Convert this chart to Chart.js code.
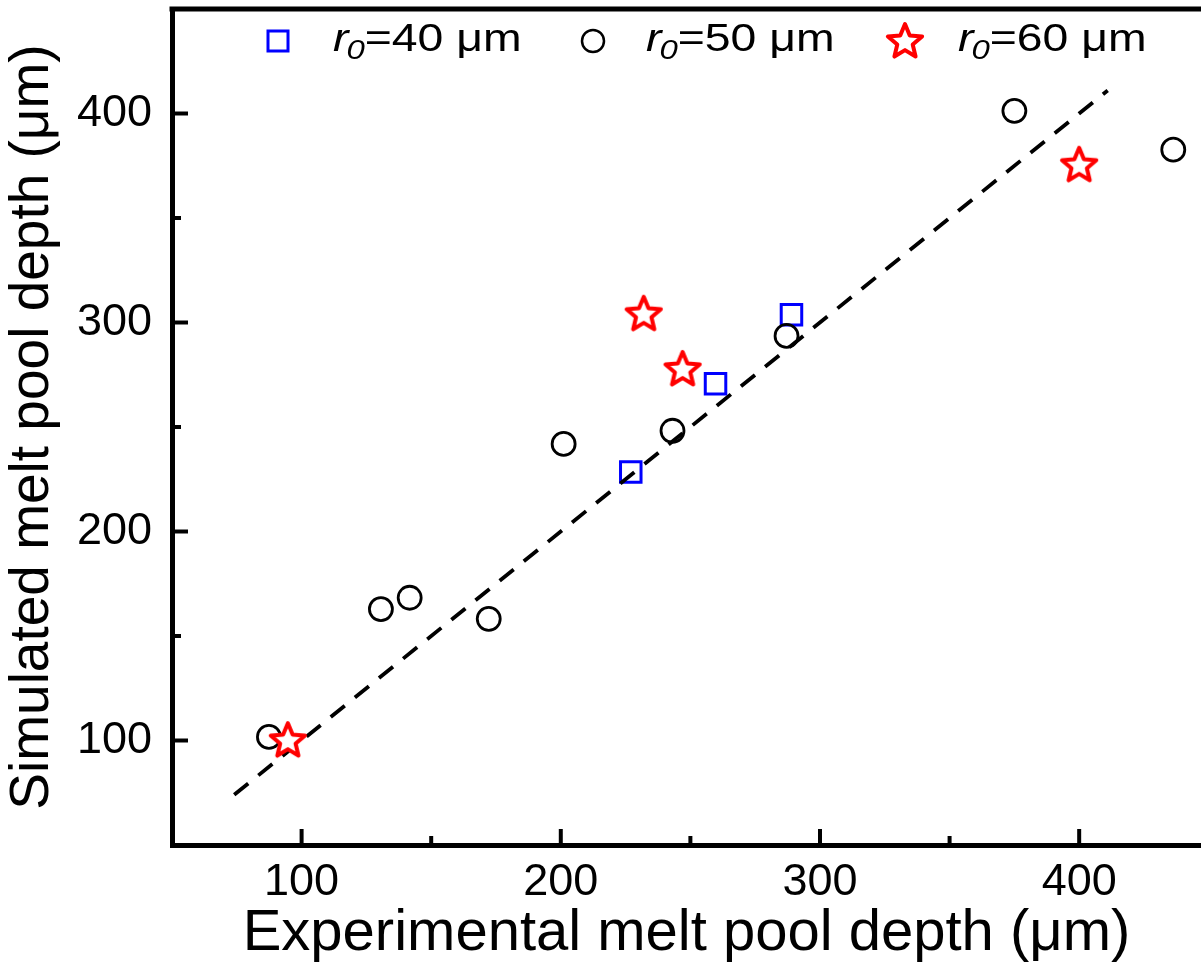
<!DOCTYPE html>
<html>
<head>
<meta charset="utf-8">
<script src="https://cdn.jsdelivr.net/npm/chart.js@4.4.0/dist/chart.umd.min.js"></script>
<style>
  html, body { margin: 0; padding: 0; background: #fff; overflow: hidden; }
  #wrap { width: 1201px; height: 969px; position: relative; }
</style>
</head>
<body>
<div id="wrap"><canvas id="chart"></canvas></div>
<script>
// data (experimental vs simulated depth, um)
const r40X = [227, 259.7, 289];
const r40Y = [228.5, 270.7, 303.7];
const r50X = [87.4, 130.6, 141.7, 172.2, 201.1, 243.1, 287.1, 375, 436.3];
const r50Y = [101.7, 162.9, 168.3, 158.2, 241.9, 248.2, 293.6, 401.3, 382.7];
const r60X = [94.7, 232, 247, 400];
const r60Y = [100.2, 304.2, 277.8, 375.5];
const fitX = [74, 411];
const fitY = [74, 411];

const xTickLabels = [100, 200, 300, 400];
const yTickLabels = [100, 200, 300, 400];
const minorTicks = [150, 250, 350];
const legendLabels = ['=40 μm', '=50 μm', '=60 μm'];

const pts = (xs, ys) => xs.map((x, i) => ({ x: x, y: ys[i] }));

// hollow red five-point star used as point style
function makeStar(size, lw) {
  const c = document.createElement('canvas');
  c.width = c.height = size;
  const g = c.getContext('2d');
  const R = size / 2 - lw, r = R * 0.45, cx = size / 2, cy = size / 2 + 1;
  g.beginPath();
  for (let i = 0; i < 10; i++) {
    const a = -Math.PI / 2 + i * Math.PI / 5;
    const rad = i % 2 ? r : R;
    g.lineTo(cx + rad * Math.cos(a), cy + rad * Math.sin(a));
  }
  g.closePath();
  g.fillStyle = '#fff';
  g.fill();
  g.lineJoin = 'round';
  g.lineWidth = lw;
  g.strokeStyle = '#ff0000';
  g.stroke();
  return c;
}
const star = makeStar(44, 4);

// drop the padding chart.js reserves for the (hidden) edge labels
const fixPad = s => { s.paddingTop = 0; s.paddingBottom = 0; s.paddingLeft = 0; s.paddingRight = 0; };

const frame = {
  id: 'frame',
  afterDraw(chart) {
    const { ctx, chartArea: a, scales: { x, y } } = chart;
    ctx.save();
    ctx.strokeStyle = '#000';
    ctx.lineWidth = 5;
    ctx.beginPath();
    ctx.moveTo(a.left - 2.5, a.top);
    ctx.lineTo(chart.width, a.top);
    ctx.stroke();

    // inward ticks
    ctx.lineWidth = 4;
    const seg = (x1, y1, x2, y2) => { ctx.beginPath(); ctx.moveTo(x1, y1); ctx.lineTo(x2, y2); ctx.stroke(); };
    xTickLabels.forEach(v => { const p = x.getPixelForValue(v); seg(p, a.bottom, p, a.bottom - 16); });
    minorTicks.forEach(v => { const p = x.getPixelForValue(v); seg(p, a.bottom, p, a.bottom - 9); });
    yTickLabels.forEach(v => { const p = y.getPixelForValue(v); seg(a.left, p, a.left + 16, p); });
    minorTicks.forEach(v => { const p = y.getPixelForValue(v); seg(a.left, p, a.left + 9, p); });

    // legend row
    const ly = 41, base = 51;
    const markX = [278, 593, 905];
    const textX = [333, 646, 958];
    ctx.lineWidth = 3;
    ctx.strokeStyle = '#0000ff';
    ctx.strokeRect(markX[0] - 10, ly - 10, 20, 20);
    ctx.strokeStyle = '#000';
    ctx.lineWidth = 2.5;
    ctx.beginPath(); ctx.arc(markX[1], ly, 11, 0, Math.PI * 2); ctx.stroke();
    ctx.drawImage(star, markX[2] - 22, ly - 22);

    ctx.fillStyle = '#000';
    ctx.textBaseline = 'alphabetic';
    legendLabels.forEach((t, i) => {
      ctx.save();
      ctx.translate(textX[i], base);
      ctx.scale(1.22, 1);
      ctx.font = 'italic 38px "Liberation Sans"';
      ctx.fillText('r', 0, 0);
      ctx.font = 'italic 27px "Liberation Sans"';
      ctx.fillText('0', 11, 8);
      ctx.font = '38px "Liberation Sans"';
      ctx.fillText(t, 26, 0);
      ctx.restore();
    });
    ctx.restore();
  }
};

new Chart(document.getElementById('chart'), {
  type: 'scatter',
  data: {
    datasets: [
      {
        label: 'r0=60 μm', data: pts(r60X, r60Y), order: 0,
        pointStyle: star, pointRadius: 19, pointHoverRadius: 19
      },
      {
        label: 'fit', data: pts(fitX, fitY), order: 1, showLine: true,
        borderColor: '#000', borderWidth: 3.8, borderDash: [18, 13],
        pointRadius: 0, pointHoverRadius: 0, fill: false
      },
      {
        label: 'r0=50 μm', data: pts(r50X, r50Y), order: 2,
        pointStyle: 'circle', pointRadius: 11.5, pointHoverRadius: 11.5,
        borderColor: '#000', backgroundColor: 'rgba(0,0,0,0)', borderWidth: 2.8
      },
      {
        label: 'r0=40 μm', data: pts(r40X, r40Y), order: 3,
        pointStyle: 'rect', pointRadius: 14.5, pointHoverRadius: 14.5,
        borderColor: '#0000ff', backgroundColor: 'rgba(0,0,0,0)', borderWidth: 3
      }
    ]
  },
  options: {
    responsive: true,
    maintainAspectRatio: false,
    animation: false,
    events: [],
    layout: { autoPadding: false, padding: { top: 9, right: 0, left: 0, bottom: 0 } },
    plugins: { legend: { display: false }, tooltip: { enabled: false } },
    scales: {
      x: {
        type: 'linear', min: 50, max: 447,
        afterFit: s => { s.height = 124; fixPad(s); },
        border: { display: true, color: '#000', width: 5 },
        grid: { display: true, drawOnChartArea: false, drawTicks: false, color: '#000' },
        ticks: {
          stepSize: 50, autoSkip: false, maxRotation: 0, padding: 11,
          color: '#000', font: { family: 'Liberation Sans', size: 45 },
          callback: v => xTickLabels.includes(v) ? String(v) : ''
        },
        title: {
          display: true, text: 'Experimental melt pool depth (μm)', color: '#000',
          font: { family: 'Liberation Sans', size: 58 }, padding: { top: 0, bottom: 0 }
        }
      },
      y: {
        type: 'linear', min: 50, max: 450,
        afterFit: s => { s.width = 172; fixPad(s); },
        border: { display: true, color: '#000', width: 5 },
        grid: { display: true, drawOnChartArea: false, drawTicks: false, color: '#000' },
        ticks: {
          stepSize: 50, autoSkip: false, padding: 20,
          color: '#000', font: { family: 'Liberation Sans', size: 45 },
          callback: v => yTickLabels.includes(v) ? String(v) : ''
        },
        title: {
          display: true, text: 'Simulated melt pool depth (μm)', color: '#000',
          font: { family: 'Liberation Sans', size: 55 }, padding: { top: 0, bottom: 0 }
        }
      }
    }
  },
  plugins: [frame]
});
</script>
</body>
</html>
